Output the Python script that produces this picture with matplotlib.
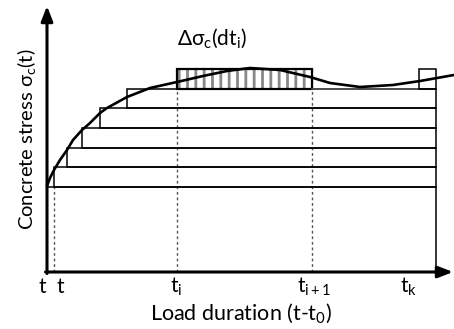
import numpy as np
import matplotlib
matplotlib.use("Agg")
import matplotlib.pyplot as plt
from matplotlib.patches import Rectangle

plt.rcParams['font.family'] = ['Lato', 'DejaVu Sans']
plt.rcParams['mathtext.fontset'] = 'custom'
plt.rcParams['mathtext.rm'] = 'Lato'
plt.rcParams['mathtext.it'] = 'Lato'
plt.rcParams['mathtext.fallback'] = 'stixsans'
plt.rcParams['hatch.linewidth'] = 2.0

# load steps (time where a new stress increment starts, top of that block)
step_t = [0, 7, 20, 35, 53, 80]
step_top = [85, 105, 124, 144, 164, 183]
t_end = 389

# increment between t_i and t_i+1, and the last one near t_k
t_i, t_i1 = 130, 265
t_k_box = 372
inc_bottom, inc_top = 183, 203

# stress history curve
curve_t = [0, 3, 7, 13, 20, 26, 35, 43, 53, 60, 80, 103, 130, 156, 180, 203,
           233, 263, 283, 313, 346, 373, 390, 407]
curve_s = [86, 94, 102, 112, 122, 132, 142, 149, 159, 164, 175, 184, 190, 196,
           201, 204, 202, 195, 189, 185, 187, 191, 194, 197]

tick_x = [-5, 13, 129, 267, 362]
tick_lbl = ['t', 't', r'$\mathregular{t_i}$', r'$\mathregular{t_{i+1}}$', r'$\mathregular{t_k}$']

fig = plt.figure(figsize=(4.54, 3.29), dpi=100)
ax = fig.add_axes([0, 0, 1, 1])
ax.set_xlim(-47, 407)
ax.set_ylim(-57, 272)
ax.axis('off')

# stacked load blocks
prev = 0
for t0, top in zip(step_t, step_top):
    ax.add_patch(Rectangle((t0, prev), t_end - t0, top - prev, fill=False,
                           ec='black', lw=1.1, zorder=2))
    prev = top

# hatched increment
ax.add_patch(Rectangle((t_i, inc_bottom), t_i1 - t_i, inc_top - inc_bottom,
                       fill=False, hatch='||', ec='#888888', lw=0, zorder=2))
ax.add_patch(Rectangle((t_i, inc_bottom), t_i1 - t_i, inc_top - inc_bottom,
                       fill=False, ec='black', lw=1.6, zorder=3))
ax.plot([t_i1, t_k_box], [inc_bottom, inc_bottom], color='#555555', lw=1.2, zorder=3)
ax.add_patch(Rectangle((t_k_box, inc_bottom), t_end - t_k_box, inc_top - inc_bottom,
                       fill=False, ec='black', lw=1.1, zorder=3))

# dotted guides
for tx, ty in [(step_t[1], step_top[0]), (t_i, inc_bottom), (t_i1, inc_top)]:
    ax.plot([tx, tx], [0, ty], color='#555555', lw=1.0, ls=(0, (2, 2)), zorder=1)

ax.plot(curve_t, curve_s, color='black', lw=1.9, zorder=5, solid_capstyle='round')

# axes with arrows
ax.annotate('', xy=(0, 266), xytext=(0, -1.5),
            arrowprops=dict(arrowstyle='-|>,head_length=0.9,head_width=0.35',
                            color='black', lw=2.2, shrinkA=0, shrinkB=0), zorder=6)
ax.annotate('', xy=(406, 0), xytext=(-1.5, 0),
            arrowprops=dict(arrowstyle='-|>,head_length=0.9,head_width=0.35',
                            color='black', lw=2.2, shrinkA=0, shrinkB=0), zorder=6)

for x, s in zip(tick_x, tick_lbl):
    ax.text(x, -15, s, ha='center', va='center', fontsize=15)

ax.text(165, 234, r'$\mathregular{\Delta\sigma_c(dt_i)}$', ha='center', va='center', fontsize=15)
ax.text(194, -41, r'Load duration (t-t$\mathregular{_0}$)', ha='center', va='center', fontsize=15.5)
ax.text(-20, 133, r'Concrete stress $\mathregular{\sigma_c}$(t)', ha='center', va='center',
        fontsize=14.5, rotation=90)

fig.savefig('out.png', dpi=100)
